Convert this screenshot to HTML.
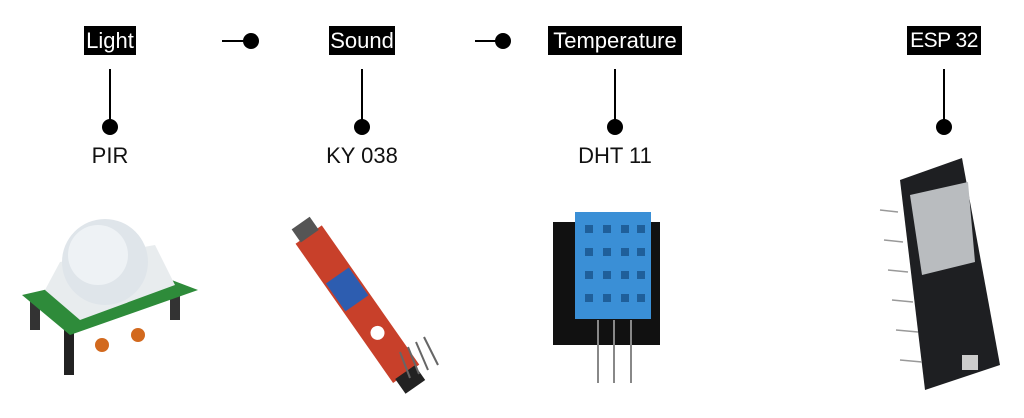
<!DOCTYPE html>
<html><head><style>
html,body{margin:0;padding:0;background:#fff;}
body{width:1024px;height:418px;position:relative;overflow:hidden;font-family:"Liberation Sans",sans-serif;}
.tag{position:absolute;top:26px;height:29px;background:#000;color:#fff;font-size:22px;line-height:29px;text-align:center;white-space:nowrap;overflow:hidden;}
.lbl{position:absolute;top:143px;font-size:22px;color:#111;text-align:center;width:140px;white-space:nowrap;}
</style></head><body>
<div class="tag" style="left:84px;width:52px">Light</div>
<div class="tag" style="left:329px;width:66px">Sound</div>
<div class="tag" style="left:548px;width:134px">Temperature</div>
<div class="tag" style="left:907px;width:74px;font-size:21px;letter-spacing:-0.5px">ESP 32</div>
<div class="lbl" style="left:40px">PIR</div>
<div class="lbl" style="left:292px">KY 038</div>
<div class="lbl" style="left:545px">DHT 11</div>
<svg width="1024" height="418" style="position:absolute;left:0;top:0">
<g stroke="#000" stroke-width="2">
<line x1="110" y1="69" x2="110" y2="127"/><line x1="362" y1="69" x2="362" y2="127"/>
<line x1="615" y1="69" x2="615" y2="127"/><line x1="944" y1="69" x2="944" y2="127"/>
<line x1="222" y1="41" x2="248" y2="41"/><line x1="475" y1="41" x2="500" y2="41"/>
</g>
<g fill="#000">
<circle cx="110" cy="127" r="8"/><circle cx="362" cy="127" r="8"/>
<circle cx="615" cy="127" r="8"/><circle cx="944" cy="127" r="8"/>
<circle cx="251" cy="41" r="8"/><circle cx="503" cy="41" r="8"/>
</g>
<!-- PIR -->
<rect x="30" y="300" width="10" height="30" fill="#333"/><rect x="170" y="290" width="10" height="30" fill="#333"/>
<rect x="64" y="330" width="10" height="45" fill="#222"/>
<polygon points="22,295 140,268 198,290 70,335" fill="#2e8b3a"/>
<polygon points="45,290 60,262 155,245 175,285 80,320" fill="#e8ecee"/>
<circle cx="105" cy="262" r="43" fill="#dfe5ea"/>
<circle cx="98" cy="255" r="30" fill="#eef2f5"/>
<circle cx="102" cy="345" r="7" fill="#d2691e"/><circle cx="138" cy="335" r="7" fill="#d2691e"/>
<!-- KY038 -->
<g transform="rotate(55 358 305)">
<rect x="272" y="289" width="170" height="32" fill="#c8402a"/>
<rect x="322" y="291" width="34" height="28" fill="#2d5db0"/>
<circle cx="392" cy="305" r="7" fill="#fff"/>
<rect x="258" y="294" width="16" height="22" fill="#555"/>
<rect x="440" y="293" width="18" height="24" fill="#222"/>
</g>
<g stroke="#666" stroke-width="2"><line x1="400" y1="352" x2="410" y2="378"/><line x1="408" y1="347" x2="419" y2="374"/><line x1="416" y1="342" x2="428" y2="370"/><line x1="424" y1="337" x2="438" y2="365"/></g>
<!-- DHT -->
<rect x="553" y="222" width="107" height="123" fill="#111"/>
<rect x="575" y="212" width="76" height="107" fill="#3a8fd6"/>
<g fill="#1f5f9a">
<rect x="585" y="225" width="8" height="8"/><rect x="603" y="225" width="8" height="8"/><rect x="621" y="225" width="8" height="8"/><rect x="637" y="225" width="8" height="8"/>
<rect x="585" y="248" width="8" height="8"/><rect x="603" y="248" width="8" height="8"/><rect x="621" y="248" width="8" height="8"/><rect x="637" y="248" width="8" height="8"/>
<rect x="585" y="271" width="8" height="8"/><rect x="603" y="271" width="8" height="8"/><rect x="621" y="271" width="8" height="8"/><rect x="637" y="271" width="8" height="8"/>
<rect x="585" y="294" width="8" height="8"/><rect x="603" y="294" width="8" height="8"/><rect x="621" y="294" width="8" height="8"/><rect x="637" y="294" width="8" height="8"/>
</g>
<g stroke="#888" stroke-width="2"><line x1="598" y1="320" x2="598" y2="383"/><line x1="614" y1="320" x2="614" y2="383"/><line x1="631" y1="320" x2="631" y2="383"/></g>
<!-- ESP32 -->
<polygon points="900,180 962,158 1000,365 925,390" fill="#1e1f22"/>
<polygon points="910,195 968,182 975,262 922,275" fill="#b9bcbf"/>
<g stroke="#999" stroke-width="1.5">
<line x1="880" y1="210" x2="898" y2="212"/><line x1="884" y1="240" x2="903" y2="242"/><line x1="888" y1="270" x2="908" y2="272"/><line x1="892" y1="300" x2="913" y2="302"/><line x1="896" y1="330" x2="918" y2="332"/><line x1="900" y1="360" x2="922" y2="362"/>
</g>
<rect x="962" y="355" width="16" height="15" fill="#ccc"/>
</svg>
</body></html>
